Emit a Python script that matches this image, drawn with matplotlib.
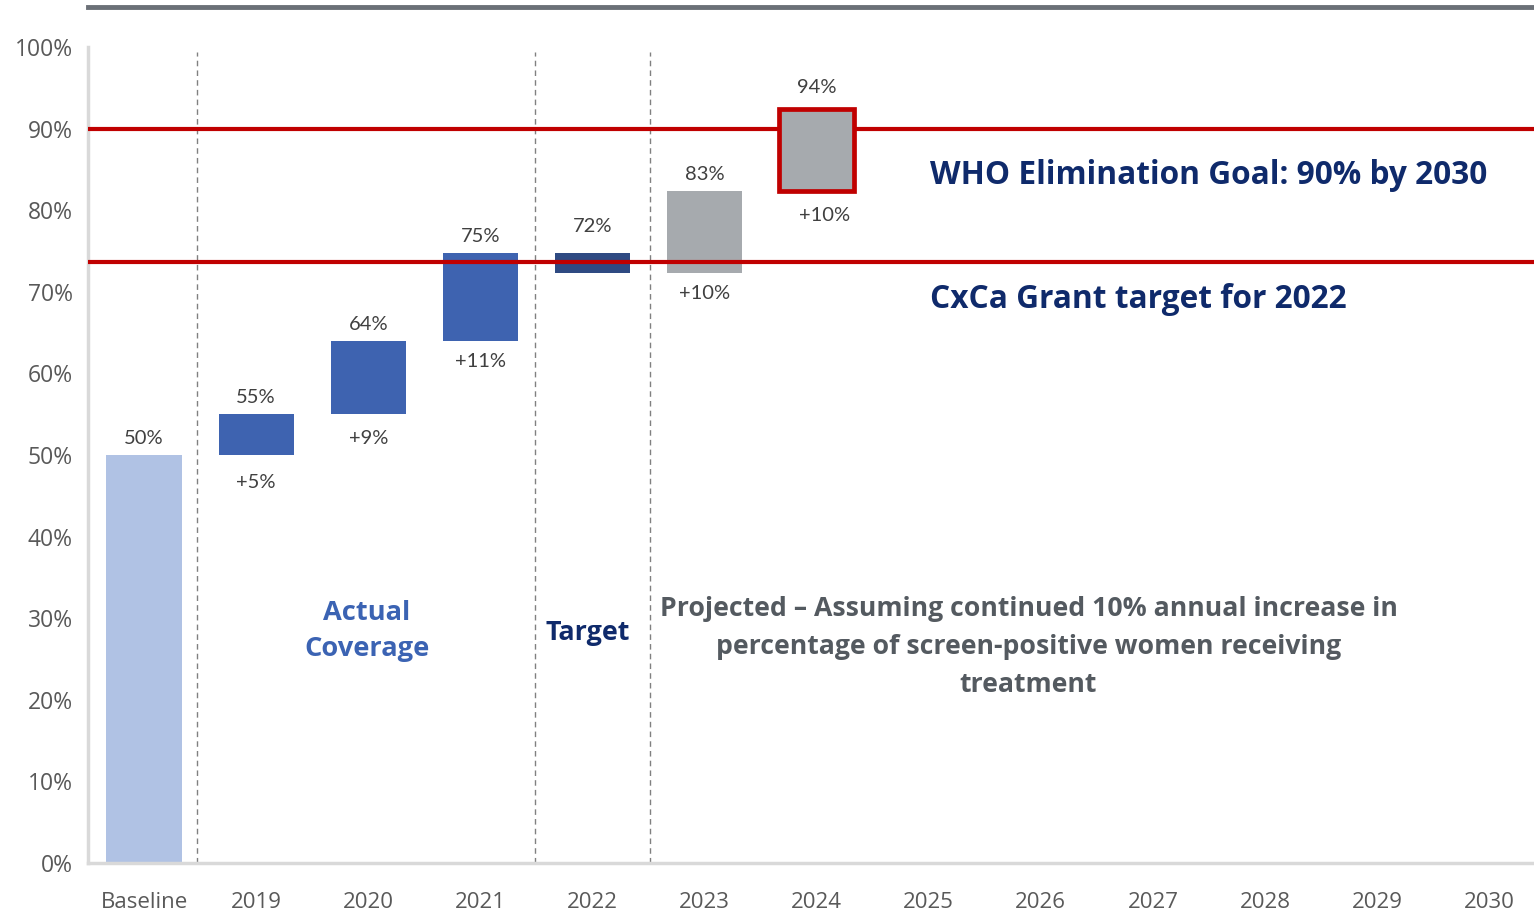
import matplotlib
matplotlib.use("Agg")
import matplotlib.pyplot as plt
from matplotlib.lines import Line2D

categories = ["Baseline", "2019", "2020", "2021", "2022", "2023", "2024",
              "2025", "2026", "2027", "2028", "2029", "2030"]
bar_bottoms = [0, 50, 55, 64, 72.3, 72.3, 82.4]
bar_tops = [50, 55, 64, 74.8, 74.8, 82.4, 92.4]
top_labels = ["50%", "55%", "64%", "75%", "72%", "83%", "94%"]
delta_labels = ["", "+5%", "+9%", "+11%", "", "+10%", "+10%"]
who_goal = 90
grant_target = 73.6

bar_colors = ["#b0c2e4", "#3e63b0", "#3e63b0", "#3e63b0", "#2f4a82", "#a6aaae", "#a6aaae"]
edge_colors = ["none"] * 6 + ["#c00000"]
edge_widths = [0] * 6 + [3.4]

fig = plt.figure(figsize=(15.34, 9.13), dpi=100)
ax = fig.add_axes([88/1534, 1-863/913, 1-88/1534, (863-47)/913])
ax.set_xlim(-0.5, 12.4)
ax.set_ylim(0, 100)

x = list(range(len(bar_tops)))
heights = [t - b for t, b in zip(bar_tops, bar_bottoms)]
bars = ax.bar(x, heights, bottom=bar_bottoms, width=0.67, color=bar_colors,
              edgecolor=edge_colors, linewidth=edge_widths, zorder=2)
bars[6].set_zorder(4)

# reference lines
ax.axhline(who_goal, color="#c00000", lw=3, zorder=3)
ax.axhline(grant_target, color="#c00000", lw=3, zorder=3)

# section separators
for xv in [0.47, 3.49, 4.51]:
    ax.plot([xv, xv], [0, 99.4], ls=(0, (4, 3)), color="#808080", lw=1, zorder=1)

lab_font = dict(family="Lato", fontweight="normal", fontsize=14.5, color="#404040")
top_off = [2.0, 2.0, 2.0, 2.0, 3.2, 2.0, 2.6]
for i, (t, lab) in enumerate(zip(bar_tops, top_labels)):
    ax.text(i, t + top_off[i], lab, ha="center", va="center", **lab_font)
bot_off = [0, 3.4, 3.0, 2.5, 0, 2.5, 3.0]
for i, (b, lab) in enumerate(zip(bar_bottoms, delta_labels)):
    if lab:
        xx = i + (0.07 if i == 6 else 0)
        ax.text(xx, b - bot_off[i], lab, ha="center", va="center", **lab_font)

# annotations
ax.text(7.01, (863-176)/8.16, "WHO Elimination Goal: 90% by 2030", ha="left", va="center",
        family="Open Sans", fontweight="bold", fontsize=22.8, color="#0f2a6b")
ax.text(7.01, (863-299)/8.16, "CxCa Grant target for 2022", ha="left", va="center",
        family="Open Sans", fontweight="bold", fontsize=22.8, color="#0f2a6b")
ax.text(1.99, (863-631)/8.16, "Actual\nCoverage", ha="center", va="center",
        family="Open Sans", fontweight="bold", fontsize=19.6, color="#3b63b3",
        linespacing=1.45)
ax.text(3.96, (863-633)/8.16, "Target", ha="center", va="center",
        family="Open Sans", fontweight="bold", fontsize=19.4, color="#0f2a6b")
ax.text(7.89, (863-647)/8.16,
        "Projected \u2013 Assuming continued 10% annual increase in\n"
        "percentage of screen-positive women receiving\ntreatment",
        ha="center", va="center", family="Open Sans", fontweight="bold",
        fontsize=19.2, color="#545a60", linespacing=1.6)

# axes styling
ax.set_xticks(range(len(categories)))
ax.set_xticklabels(categories)
ax.set_yticks(range(0, 101, 10))
ax.set_yticklabels([f"{v}%" for v in range(0, 101, 10)])
ax.tick_params(axis="y", length=0, labelsize=16.5, colors="#595959", pad=11)
ax.tick_params(axis="x", length=0, labelsize=16, colors="#595959", pad=21)
for lab in ax.get_xticklabels() + ax.get_yticklabels():
    lab.set_family("Open Sans")
for s in ["top", "right"]:
    ax.spines[s].set_visible(False)
for s in ["left", "bottom"]:
    ax.spines[s].set_color("#d9d9d9")
    ax.spines[s].set_linewidth(2.5)

fig.add_artist(Line2D([88/1534, 1], [1-7/913, 1-7/913], color="#6b7077", lw=3.5,
                      transform=fig.transFigure))

fig.savefig("out.png", dpi=100)
